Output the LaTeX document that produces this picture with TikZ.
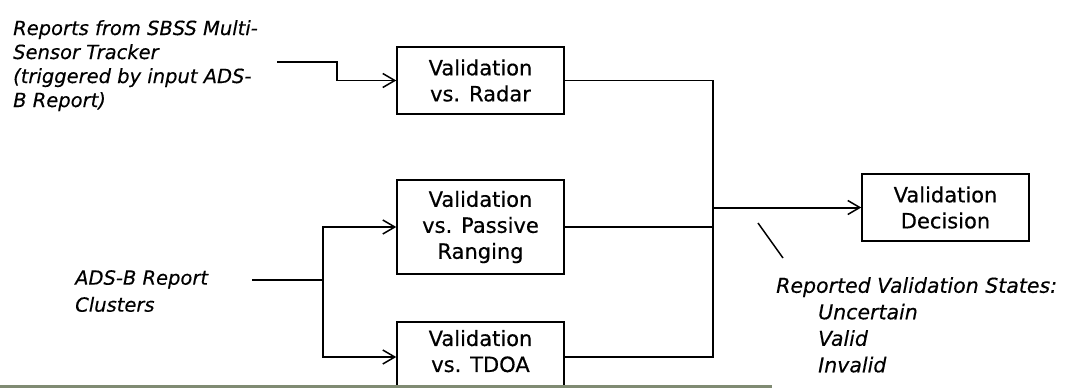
\documentclass[tikz,border=0pt]{standalone}
\usepackage{fontspec}
\setmainfont{DejaVu Sans}
\newfontfamily\boxfont{DejaVu Sans}[FakeBold=0.5]
\newfontfamily\notefont{DejaVu Sans Oblique}[FakeBold=0.3]
\usetikzlibrary{arrows.meta}
\definecolor{rulegray}{RGB}{128,139,115}
\begin{document}
\begin{tikzpicture}[x=1pt,y=-1pt,
  box/.style={draw,line width=1.5pt,fill=white,minimum width=167pt,inner sep=0pt,align=center,font=\boxfont\fontsize{21}{26}\selectfont},
  note/.style={inner sep=0pt,align=left,anchor=north west,font=\notefont\fontsize{19.5}{24}\selectfont},
  conn/.style={line width=1.5pt},
  thick conn/.style={line width=2pt},
  arr/.style={-{Straight Barb[length=12pt,width=14pt,line width=1.5pt]}}]
\useasboundingbox (0,0) rectangle (1066,388);

% boxes
\node[box,minimum height=67pt] (radar) at (480.5,80.5) {Validation\\vs. Radar};
\node[box,minimum height=94pt] (passive) at (480.5,227) {Validation\\vs. Passive\\Ranging};
\node[box,minimum height=70pt] (tdoa) at (480.5,357) {Validation\\vs. TDOA\rule[-12pt]{0pt}{0pt}};
\node[box,minimum height=67pt] (dec) at (945.5,207.5) {Validation\\Decision};

% texts
\node[note] (src) at (13,20) {Reports from SBSS Multi-\\Sensor Tracker\\(triggered by input ADS-\\B Report)};
\node[note,font=\notefont\fontsize{19.5}{27}\selectfont] (ads) at (75,270) {ADS-B Report\\Clusters};
\node[note,font=\notefont\fontsize{20.5}{26.5}\selectfont] (states) at (776,277)
  {Reported Validation States:\\\hspace*{42pt}Uncertain\\\hspace*{42pt}Valid\\\hspace*{42pt}Invalid};

% input from tracker
\coordinate (in1) at (277,62);
\draw[conn,arr] (in1) -- ++(60,0) |- (radar.west);

% ADS-B clusters input
\coordinate (in2) at (252,280);
\coordinate (br) at (323,280);
\draw[thick conn] (in2) -- (br);
\draw[conn,arr] (br) |- (passive.west);
\draw[conn,arr] (br) |- (tdoa.west);

% output bus
\coordinate (bus) at (713,207.5);
\draw[conn] (radar.east) -| (bus) |- (tdoa.east);
\draw[conn] (passive.east) -- (passive.east -| bus);
\draw[thick conn,arr] (bus) -- (dec.west);

% annotation slash
\coordinate (s1) at (758,223);
\coordinate (s2) at (783,258);
\draw[conn] (s1) -- (s2);

% gray rule at bottom
\coordinate (g1) at (0,386.5);
\coordinate (g2) at (772,386.5);
\draw[rulegray,line width=3pt] (g1) -- (g2);
\end{tikzpicture}
\end{document}
